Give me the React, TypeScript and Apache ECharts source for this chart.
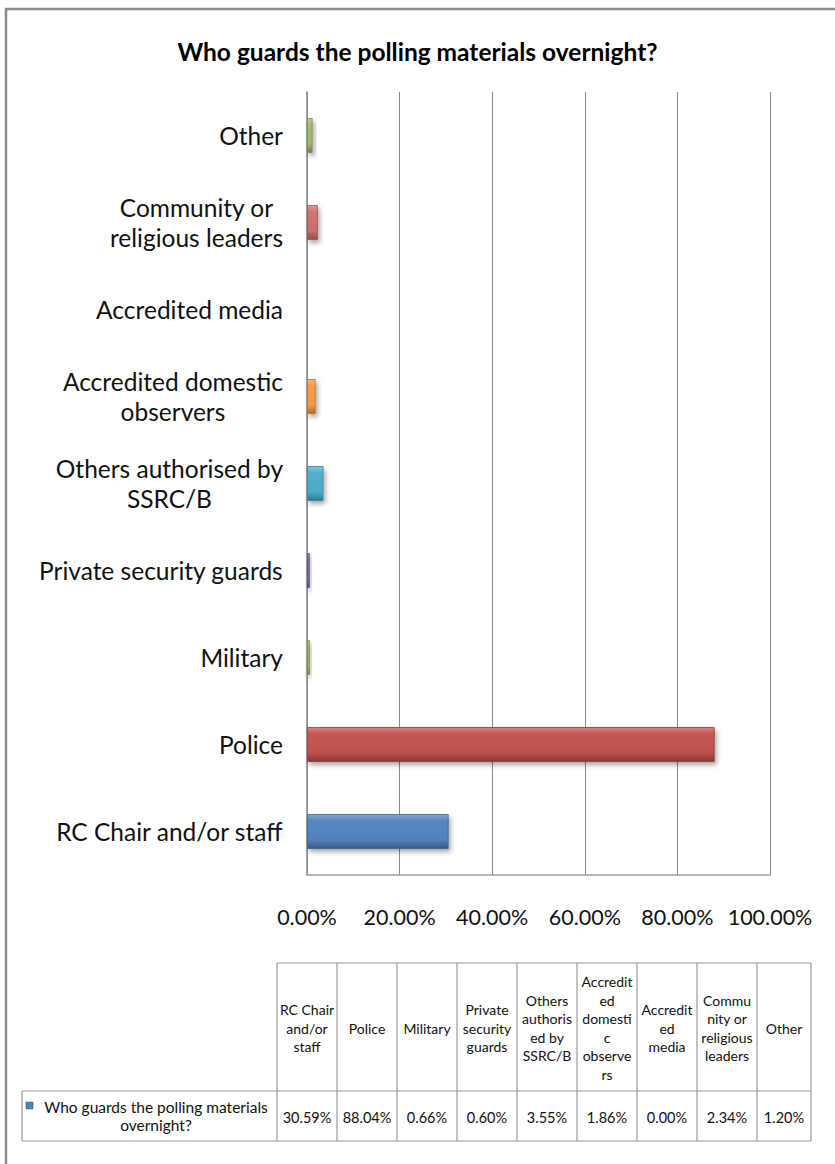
import React, { useEffect, useRef } from "react";
import * as echarts from "echarts";

const title = "Who guards the polling materials overnight?";
const categories = [
  "RC Chair and/or staff",
  "Police",
  "Military",
  "Private security guards",
  "Others authorised by SSRC/B",
  "Accredited domestic observers",
  "Accredited media",
  "Community or religious leaders",
  "Other",
];
const axisLabelLines = [
  ["RC Chair and/or staff"],
  ["Police"],
  ["Military"],
  ["Private security guards"],
  ["Others authorised by", "SSRC/B"],
  ["Accredited domestic", "observers"],
  ["Accredited media"],
  ["Community or", "religious leaders"],
  ["Other"],
];
const tableHeaderLines = [
  ["RC Chair", "and/or", "staff"],
  ["Police"],
  ["Military"],
  ["Private", "security", "guards"],
  ["Others", "authoris", "ed by", "SSRC/B"],
  ["Accredit", "ed", "domesti", "c", "observe", "rs"],
  ["Accredit", "ed", "media"],
  ["Commu", "nity or", "religious", "leaders"],
  ["Other"],
];
const values = [30.59, 88.04, 0.66, 0.6, 3.55, 1.86, 0.0, 2.34, 1.2];
const seriesName = "Who guards the polling materials overnight?";
const seriesNameLines = ["Who guards the polling materials", "overnight?"];
const xTicks = [0, 20, 40, 60, 80, 100];
const barColors = [
  "#4F81BD",
  "#C0504D",
  "#9BBB59",
  "#8064A2",
  "#4BACC6",
  "#F79646",
  "#2C4D75",
  "#C96F6E",
  "#9DBB6C",
];

function shade(hex: string, f: number): string {
  const n = parseInt(hex.slice(1), 16);
  let r = (n >> 16) & 255, g = (n >> 8) & 255, b = n & 255;
  if (f >= 0) {
    r = Math.round(r + (255 - r) * f);
    g = Math.round(g + (255 - g) * f);
    b = Math.round(b + (255 - b) * f);
  } else {
    r = Math.round(r * (1 + f));
    g = Math.round(g * (1 + f));
    b = Math.round(b * (1 + f));
  }
  return `rgb(${r},${g},${b})`;
}

const FONT = "Lato, 'Open Sans', sans-serif";

export default function App() {
  const ref = useRef<HTMLDivElement>(null);
  useEffect(() => {
    if (!ref.current) return;
    const chart = echarts.init(ref.current, null, { renderer: "svg" });
    const W = 835;
    const H = 1164;
    const plotLeft = 307;
    const plotRight = 770;
    const plotTop = 92;
    const plotBottom = 875;

    const tTop = 963;
    const tHeadBottom = 1091;
    const tBottom = 1141;
    const tLabelLeft = 22;
    const colX: number[] = [277];
    const colWidths = [60, 60, 60, 60, 60, 60, 60, 60, 54];
    colWidths.forEach((w, i) => colX.push(colX[i] + w));
    const lineColor = "#9a9a9a";
    const graphics: any[] = [];
    graphics.push({
      type: "rect",
      shape: { x: 6, y: 9, width: W + 20, height: H + 20 },
      style: { fill: "none", stroke: "#8c8c8c", lineWidth: 2.5 },
      silent: true,
    });
    const hline = (x1: number, x2: number, y: number) =>
      graphics.push({
        type: "line",
        shape: { x1, y1: y, x2, y2: y },
        style: { stroke: lineColor, lineWidth: 1.2 },
      });
    hline(colX[0], colX[colX.length - 1], tTop);
    hline(tLabelLeft, colX[colX.length - 1], tHeadBottom);
    hline(tLabelLeft, colX[colX.length - 1], tBottom);
    graphics.push({
      type: "line",
      shape: { x1: tLabelLeft, y1: tHeadBottom, x2: tLabelLeft, y2: tBottom },
      style: { stroke: lineColor, lineWidth: 1.2 },
    });
    colX.forEach((x) => {
      graphics.push({
        type: "line",
        shape: { x1: x, y1: tTop, x2: x, y2: tBottom },
        style: { stroke: lineColor, lineWidth: 1.2 },
      });
    });
    const headMid = (tTop + tHeadBottom) / 2 + 1;
    tableHeaderLines.forEach((lines, i) => {
      const cx = (colX[i] + colX[i + 1]) / 2;
      graphics.push({
        type: "text",
        x: cx,
        y: headMid,
        style: {
          text: lines.join("\n"),
          fontFamily: FONT,
          fontSize: 14,
          lineHeight: 18.5,
          fill: "#111",
          align: "center",
          verticalAlign: "middle",
        },
      });
    });
    const rowMid = (tHeadBottom + tBottom) / 2;
    values.forEach((v, i) => {
      const cx = (colX[i] + colX[i + 1]) / 2;
      graphics.push({
        type: "text",
        x: cx,
        y: rowMid + 1,
        style: {
          text: v.toFixed(2) + "%",
          fontFamily: FONT,
          fontSize: 14.5,
          fill: "#111",
          align: "center",
          verticalAlign: "middle",
        },
      });
    });
    graphics.push({
      type: "rect",
      shape: { x: 26, y: rowMid - 14, width: 7, height: 7 },
      style: { fill: "#4F81BD", stroke: "#2C4D75", lineWidth: 0.5 },
    });
    graphics.push({
      type: "text",
      x: 156,
      y: rowMid - 0.5,
      style: {
        text: seriesNameLines.join("\n"),
        fontFamily: FONT,
        fontSize: 15.5,
        lineHeight: 18,
        fill: "#111",
        align: "center",
        verticalAlign: "middle",
      },
    });

    const option: any = {
      animation: false,
      backgroundColor: "#ffffff",
      title: {
        text: title,
        left: "center",
        top: 34,
        textStyle: {
          fontFamily: FONT,
          fontSize: 24.5,
          fontWeight: "bold",
          color: "#000",
        },
      },
      grid: {
        left: plotLeft,
        right: W - plotRight,
        top: plotTop,
        bottom: H - plotBottom,
        containLabel: false,
      },
      xAxis: {
        type: "value",
        min: xTicks[0],
        max: xTicks[xTicks.length - 1],
        interval: xTicks[1] - xTicks[0],
        axisLine: { show: true, lineStyle: { color: "#a0a0a0", width: 1.5 } },
        axisTick: { show: false },
        splitLine: { show: true, lineStyle: { color: "#8a8a8a", width: 1 } },
        axisLabel: {
          formatter: (v: number) => v.toFixed(2) + "%",
          fontFamily: FONT,
          fontSize: 21.5,
          color: "#111",
          margin: 31,
        },
      },
      yAxis: {
        type: "category",
        data: categories,
        axisLine: { show: true, lineStyle: { color: "#8a8a8a", width: 1.5 } },
        axisTick: { show: false },
        axisLabel: {
          margin: 24,
          formatter: (_v: string, idx: number) =>
            axisLabelLines[idx].map((l) => `{c|${l}}`).join("\n"),
          rich: {
            c: {
              align: "center",
              fontFamily: FONT,
              fontSize: 24.5,
              lineHeight: 30,
              color: "#111",
            },
          },
        },
      },
      series: [
        {
          name: seriesName,
          type: "bar",
          barWidth: "40%",
          data: values.map((v, i) => ({
            value: v,
            itemStyle: {
              color: new echarts.graphic.LinearGradient(0, 0, 0, 1, [
                { offset: 0, color: shade(barColors[i], 0.3) },
                { offset: 0.18, color: shade(barColors[i], 0.05) },
                { offset: 0.75, color: barColors[i] },
                { offset: 1, color: shade(barColors[i], -0.3) },
              ]),
              borderColor: shade(barColors[i], -0.25),
              borderWidth: 0.8,
              shadowColor: "rgba(0,0,0,0.35)",
              shadowBlur: 5,
              shadowOffsetX: 2,
              shadowOffsetY: 3,
            },
          })),
        },
      ],
      graphic: graphics,
    };
    chart.setOption(option);
    return () => chart.dispose();
  }, []);
  return (
    <div
      ref={ref}
      style={{ position: "absolute", left: 0, top: 0, width: 835, height: 1164 }}
    />
  );
}
